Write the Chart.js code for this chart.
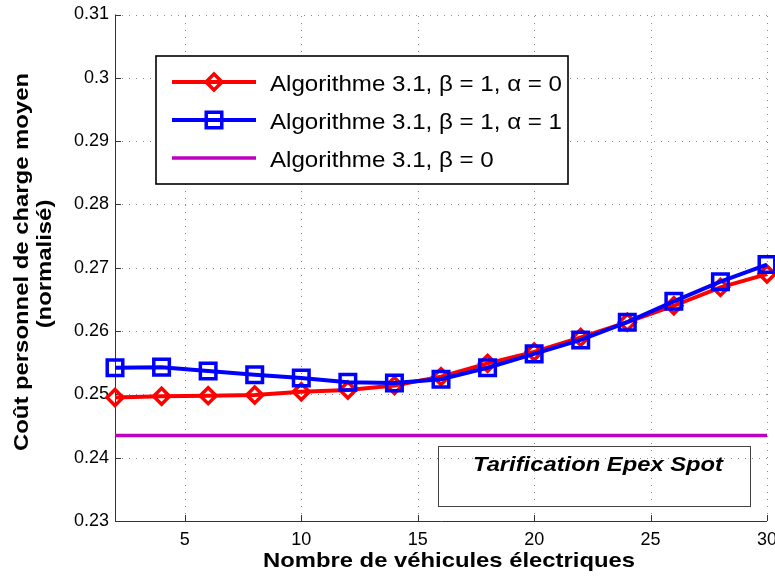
<!DOCTYPE html>
<html><head><meta charset="utf-8">
<script src="https://cdn.jsdelivr.net/npm/chart.js@4"></script>
<style>html,body{margin:0;padding:0;background:#fff;overflow:hidden}</style>
</head><body>
<canvas id="c" width="775" height="578" style="display:block;width:775px;height:578px"></canvas>
<script>
// ---- data ----
const vehicles = [2, 4, 6, 8, 10, 12, 14, 16, 18, 20, 22, 24, 26, 28, 30];
const algoBeta1Alpha0 = [0.2495, 0.2497, 0.2498, 0.2499, 0.2504, 0.2507, 0.2514, 0.2528, 0.2549, 0.2567, 0.2590, 0.2614, 0.2640, 0.2669, 0.2690];
const algoBeta1Alpha1 = [0.2542, 0.2543, 0.2537, 0.2531, 0.2526, 0.2519, 0.2518, 0.2524, 0.2542, 0.2564, 0.2586, 0.2614, 0.2647, 0.2678, 0.2705];
const algoBeta0 = [0.2435, 0.2435, 0.2435, 0.2435, 0.2435, 0.2435, 0.2435, 0.2435, 0.2435, 0.2435, 0.2435, 0.2435, 0.2435, 0.2435, 0.2435];
const seriesLabels = ['Algorithme 3.1, β = 1, α = 0', 'Algorithme 3.1, β = 1, α = 1', 'Algorithme 3.1, β = 0'];
const xTicks = [5, 10, 15, 20, 25, 30];
const xTickLabels = ['5', '10', '15', '20', '25', '30'];
const yTicks = [0.23, 0.24, 0.25, 0.26, 0.27, 0.28, 0.29, 0.30, 0.31];
const yTickLabels = ['0.23', '0.24', '0.25', '0.26', '0.27', '0.28', '0.29', '0.3', '0.31'];
const xTitle = 'Nombre de véhicules électriques';
const yTitle = ['Coût personnel de charge moyen', '(normalisé)'];
const annotationText = 'Tarification Epex Spot';

const FONT = '"Liberation Sans", Arial, Helvetica, sans-serif';
const PLOT_RIGHT_MARGIN = 8;

const pts = (ys) => vehicles.map((x, i) => ({x: x, y: ys[i]}));

// draw text stretched along its own direction to reach a target width
function stretchFactor(ctx, text, font, targetWidth) {
  ctx.save(); ctx.font = font; const w = ctx.measureText(text).width; ctx.restore();
  return targetWidth / w;
}
function drawText(ctx, text, x, y, font, sx, align, angle) {
  ctx.save();
  ctx.translate(x, y);
  if (angle) ctx.rotate(angle);
  ctx.scale(sx, 1);
  ctx.font = font;
  ctx.fillStyle = '#000';
  ctx.textAlign = align;
  ctx.textBaseline = 'alphabetic';
  ctx.fillText(text, 0, 0);
  ctx.restore();
}

const gridPlugin = {
  id: 'matlabGrid',
  afterLayout(chart) {
    // let the plot area run to the right edge like the original figure
    const x = chart.scales.x;
    const target = chart.width - PLOT_RIGHT_MARGIN;
    x.right = target;
    x.width = target - x.left;
    x.configure();
    chart.chartArea.right = target;
    chart.chartArea.width = target - chart.chartArea.left;
  },
  beforeDatasetsDraw(chart) {
    const {ctx, chartArea: a, scales: {x, y}} = chart;
    ctx.save();
    ctx.strokeStyle = '#8a8a8a';
    ctx.lineWidth = 1;
    ctx.setLineDash([1, 6]);
    xTicks.forEach(v => {
      const px = Math.round(x.getPixelForValue(v)) + 0.5;
      ctx.beginPath(); ctx.moveTo(px, a.bottom); ctx.lineTo(px, a.top); ctx.stroke();
    });
    yTicks.forEach(v => {
      const py = Math.round(y.getPixelForValue(v)) + 0.5;
      ctx.beginPath(); ctx.moveTo(a.left, py); ctx.lineTo(a.right, py); ctx.stroke();
    });
    ctx.setLineDash([]);
    ctx.strokeStyle = '#333';
    ctx.beginPath();
    ctx.moveTo(a.left + 0.5, a.top); ctx.lineTo(a.left + 0.5, a.bottom + 0.5); ctx.lineTo(a.right, a.bottom + 0.5);
    ctx.stroke();
    ctx.beginPath();
    xTicks.forEach(v => {
      const px = Math.round(x.getPixelForValue(v)) + 0.5;
      ctx.moveTo(px, a.bottom); ctx.lineTo(px, a.bottom - 6);
    });
    yTicks.forEach(v => {
      const py = Math.round(y.getPixelForValue(v)) + 0.5;
      ctx.moveTo(a.left, py); ctx.lineTo(a.left + 6, py);
    });
    ctx.stroke();
    ctx.restore();
  },
  afterDatasetsDraw(chart) {
    const {ctx} = chart;
    ctx.save();
    // annotation box
    ctx.strokeStyle = '#444';
    ctx.lineWidth = 1;
    ctx.strokeRect(438.5, 446.5, 312, 60);
    const annFont = 'italic bold 20.5px ' + FONT;
    drawText(ctx, annotationText, 598, 470.5, annFont, stretchFactor(ctx, annotationText, annFont, 250), 'center', 0);

    // legend box
    ctx.fillStyle = '#fff';
    ctx.fillRect(156, 56, 412, 128);
    ctx.strokeStyle = '#000';
    ctx.lineWidth = 1.6;
    ctx.strokeRect(156, 56, 412, 128);
    const legFont = '21.5px ' + FONT;
    const legSx = stretchFactor(ctx, seriesLabels[0], legFont, 292);
    const order = [1, 0, 2]; // dataset indices for legend rows
    const rowsY = [82, 120, 158];
    order.forEach((di, r) => {
      const ds = chart.data.datasets[di];
      const yy = rowsY[r];
      ctx.save();
      ctx.strokeStyle = ds.borderColor;
      ctx.lineWidth = ds.borderWidth;
      ctx.beginPath(); ctx.moveTo(172, yy); ctx.lineTo(256, yy); ctx.stroke();
      if (ds.pointRadius > 0) {
        ctx.fillStyle = 'rgba(0,0,0,0)';
        ctx.strokeStyle = ds.pointBorderColor;
        ctx.lineWidth = ds.pointBorderWidth;
        Chart.helpers.drawPoint(ctx, {
          pointStyle: ds.pointStyle, radius: ds.pointRadius, borderWidth: ds.pointBorderWidth, rotation: 0
        }, 214, yy);
      }
      ctx.restore();
      drawText(ctx, ds.label, 270, yy + 8.5, legFont, legSx, 'left', 0);
    });

    // axis titles
    const tFont = 'bold 20.5px ' + FONT;
    drawText(ctx, xTitle, 449, 566.5, tFont, stretchFactor(ctx, xTitle, tFont, 372), 'center', 0);
    const ySx = stretchFactor(ctx, yTitle[0], tFont, 378);
    drawText(ctx, yTitle[0], 28, 262, tFont, ySx, 'center', -Math.PI / 2);
    drawText(ctx, yTitle[1], 51, 264, tFont, ySx, 'center', -Math.PI / 2);
    ctx.restore();
  }
};

new Chart(document.getElementById('c'), {
  type: 'line',
  data: {
    datasets: [
      {label: seriesLabels[1], data: pts(algoBeta1Alpha1), borderColor: '#0000ff', backgroundColor: 'rgba(0,0,0,0)',
       borderWidth: 4, pointStyle: 'rect', pointRadius: 11, pointHoverRadius: 11, pointBorderWidth: 3.5,
       pointBackgroundColor: 'rgba(0,0,0,0)', pointBorderColor: '#0000ff', order: 0, clip: false},
      {label: seriesLabels[0], data: pts(algoBeta1Alpha0), borderColor: '#ff0000', backgroundColor: 'rgba(0,0,0,0)',
       borderWidth: 4, pointStyle: 'rectRot', pointRadius: 8, pointHoverRadius: 8, pointBorderWidth: 3.5,
       pointBackgroundColor: 'rgba(0,0,0,0)', pointBorderColor: '#ff0000', order: 1, clip: false},
      {label: seriesLabels[2], data: pts(algoBeta0), borderColor: '#bf00bf', backgroundColor: 'rgba(0,0,0,0)',
       borderWidth: 3.5, pointRadius: 0, pointHoverRadius: 0, pointBorderWidth: 0, order: 2, clip: false}
    ]
  },
  options: {
    responsive: false,
    animation: false,
    devicePixelRatio: 1,
    events: [],
    layout: {padding: {top: 14, right: 8, left: 0, bottom: 0}},
    plugins: {legend: {display: false}, tooltip: {enabled: false}},
    scales: {
      x: {
        type: 'linear', min: 2, max: 30,
        grid: {display: false, drawTicks: true, tickLength: 8}, border: {display: false},
        afterBuildTicks: (s) => { s.ticks = xTicks.map(v => ({value: v})); },
        afterFit: (s) => { s.height = 57; s.paddingLeft = 0; s.paddingRight = 0; },
        ticks: {
          maxRotation: 0, autoSkip: false, padding: 0, color: '#000',
          font: {family: FONT, size: 18},
          callback: (v) => xTickLabels[xTicks.indexOf(v)]
        }
      },
      y: {
        type: 'linear', min: 0.23, max: 0.31,
        grid: {display: false, drawTicks: false}, border: {display: false},
        afterBuildTicks: (s) => { s.ticks = yTicks.map(v => ({value: v})); },
        afterFit: (s) => { s.width = 115; s.paddingTop = 0; s.paddingBottom = 0; },
        ticks: {
          autoSkip: false, padding: 6, color: '#000',
          font: {family: FONT, size: 18},
          callback: (v) => { const i = yTicks.findIndex(t => Math.abs(t - v) < 1e-9); return i >= 0 ? yTickLabels[i] : ''; }
        }
      }
    }
  },
  plugins: [gridPlugin]
});
</script>
</body></html>
